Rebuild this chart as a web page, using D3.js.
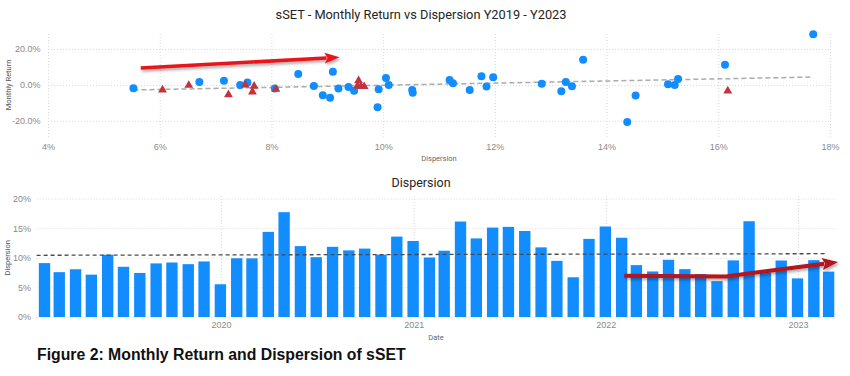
<!DOCTYPE html>
<html>
<head>
<meta charset="utf-8">
<script src="https://cdn.jsdelivr.net/npm/d3@7"></script>
<style>
  html, body { margin: 0; padding: 0; background: #fff; }
  svg { display: block; font-family: Roboto, "Open Sans", sans-serif; }
  .tick text { fill: #8a8a8a; font-size: 9px; }
  .grid line { stroke: #d9d9d9; stroke-dasharray: 1 2; }
  .grid .domain { display: none; }
</style>
</head>
<body>
<div id="chart"></div>
<script>
// month-end dates, Jan 2019 .. Feb 2023
const months = [
  "2019-01-31", "2019-02-28", "2019-03-31", "2019-04-30", "2019-05-31", "2019-06-30",
  "2019-07-31", "2019-08-31", "2019-09-30", "2019-10-31", "2019-11-30", "2019-12-31",
  "2020-01-31", "2020-02-29", "2020-03-31", "2020-04-30", "2020-05-31", "2020-06-30",
  "2020-07-31", "2020-08-31", "2020-09-30", "2020-10-31", "2020-11-30", "2020-12-31",
  "2021-01-31", "2021-02-28", "2021-03-31", "2021-04-30", "2021-05-31", "2021-06-30",
  "2021-07-31", "2021-08-31", "2021-09-30", "2021-10-31", "2021-11-30", "2021-12-31",
  "2022-01-31", "2022-02-28", "2022-03-31", "2022-04-30", "2022-05-31", "2022-06-30",
  "2022-07-31", "2022-08-31", "2022-09-30", "2022-10-31", "2022-11-30", "2022-12-31",
  "2023-01-31", "2023-02-28"
];

// dispersion, %
const dispersion = [
  9.10, 7.57, 8.06, 7.15, 10.52, 8.48, 7.44, 9.05, 9.20, 8.92, 9.38, 5.53,
  9.92, 9.90, 14.37, 17.70, 11.97, 10.10, 11.85, 11.25, 11.55, 10.53, 13.58, 12.84,
  10.05, 11.19, 16.12, 13.27, 15.10, 15.22, 14.52, 11.76, 9.48, 6.71, 13.19, 15.28,
  13.38, 8.76, 7.69, 9.66, 8.08, 7.23, 6.05, 9.56, 16.17, 7.53, 9.54, 6.52,
  9.60, 7.66
];

// monthly return, %
const monthlyReturn = [
  7.4, 1.3, -2.0, 2.4, -2.8, 6.1, 0.0, -7.2, -2.0, -5.7, -1.1, -1.8,
  -2.4, -12.4, -20.7, 28.3, 4.3, 0.0, -0.9, 0.9, -2.8, -4.3, 14.1, 0.7,
  3.9, 2.8, 11.3, 1.7, 0.4, 0.0, -5.9, 4.8, -3.2, 1.7, -3.5, 3.3,
  -0.7, -0.6, -0.7, -0.9, -2.4, -5.4, -2.8, 2.4, -3.3, 0.0, -0.6, -0.2,
  -0.8, -3.9
];

const recentFrom = "2022-03-31"; // last 12 months drawn as triangles

// trend lines (start, end)
const returnTrend = [-2.8, 4.4];
const dispersionTrend = [10.42, 10.69];

// hand-drawn annotation arrows, in data units
const topArrow = [[5.66, 9.4], [9.22, 15.4]];
const bottomArrow = [["2022-02-05", 6.95], ["2022-08-17", 6.85], ["2023-03-18", 9.3]];

const returnTicks = [-20, 0, 20];
const dispTicks = [4, 6, 8, 10, 12, 14, 16, 18];
const barTicks = [0, 5, 10, 15, 20];
const yearTicks = ["2020-01-01", "2021-01-01", "2022-01-01", "2023-01-01"];

const parse = d3.utcParse("%Y-%m-%d");
const rows = months.map((m, i) => ({
  date: parse(m),
  disp: dispersion[i],
  ret: monthlyReturn[i],
  recent: m >= recentFrom
}));

const width = 850;
const height = 376;
const blue = "#118DFF";

const svg = d3.select("#chart").append("svg")
  .attr("width", width)
  .attr("height", height);

svg.append("rect").attr("width", width).attr("height", height).attr("fill", "#fff");

const defs = svg.append("defs");
defs.append("filter").attr("id", "shadow")
  .attr("x", "-20%").attr("y", "-50%").attr("width", "140%").attr("height", "200%")
  .append("feDropShadow")
  .attr("dx", 1.5).attr("dy", 2).attr("stdDeviation", 1.5)
  .attr("flood-color", "#000").attr("flood-opacity", 0.35);

// ---------- top: scatter ----------
const xTop = d3.scaleLinear().domain([4, 18]).range([48, 830]);
const yTop = d3.scaleLinear().domain([-29, 29.5]).range([137, 32]);

svg.append("text")
  .attr("x", 421).attr("y", 18.5)
  .attr("text-anchor", "middle")
  .attr("font-size", 12.8)
  .attr("fill", "#252423")
  .text("sSET - Monthly Return vs Dispersion Y2019 - Y2023");

svg.append("g").attr("class", "grid")
  .attr("transform", `translate(0,${yTop.range()[0]})`)
  .call(d3.axisBottom(xTop).tickValues(dispTicks).tickSize(-(yTop.range()[0] - yTop.range()[1])).tickFormat(""));
svg.append("g").attr("class", "grid")
  .attr("transform", `translate(${xTop.range()[0]},0)`)
  .call(d3.axisLeft(yTop).tickValues(returnTicks).tickSize(-(xTop.range()[1] - xTop.range()[0])).tickFormat(""));

svg.append("g")
  .attr("transform", `translate(0,${yTop.range()[0]})`)
  .call(d3.axisBottom(xTop).tickValues(dispTicks).tickFormat((d) => d + "%").tickSize(0).tickPadding(7))
  .call((g) => g.select(".domain").remove());
svg.append("g")
  .attr("transform", `translate(${xTop.range()[0]},0)`)
  .call(d3.axisLeft(yTop).tickValues(returnTicks).tickFormat((d) => d.toFixed(1) + "%").tickSize(0).tickPadding(7.5))
  .call((g) => g.select(".domain").remove());

svg.append("text")
  .attr("x", 439).attr("y", 161)
  .attr("text-anchor", "middle").attr("font-size", 7.5).attr("fill", "#666")
  .text("Dispersion");
svg.append("text")
  .attr("transform", `translate(10.5,${yTop(0)}) rotate(-90)`)
  .attr("text-anchor", "middle").attr("font-size", 7.5).attr("fill", "#555")
  .text("Monthly Return");

const dExtent = d3.extent(rows, (d) => d.disp);
svg.append("line")
  .attr("x1", xTop(dExtent[0])).attr("y1", yTop(returnTrend[0]))
  .attr("x2", xTop(dExtent[1])).attr("y2", yTop(returnTrend[1]))
  .attr("stroke", "#ababab").attr("stroke-width", 1.5).attr("stroke-dasharray", "5 3");

svg.append("g")
  .selectAll("circle")
  .data(rows.filter((d) => !d.recent))
  .join("circle")
  .attr("cx", (d) => xTop(d.disp))
  .attr("cy", (d) => yTop(d.ret))
  .attr("r", 4)
  .attr("fill", blue);

svg.append("g")
  .selectAll("path")
  .data(rows.filter((d) => d.recent))
  .join("path")
  .attr("transform", (d) => `translate(${xTop(d.disp)},${yTop(d.ret)})`)
  .attr("d", d3.symbol(d3.symbolTriangle, 34))
  .attr("fill", "#C3323D");

drawArrow(topArrow.map(([d, r]) => [xTop(d), yTop(r)]), "#E8161B", 3.5, 15, 11);

// ---------- bottom: bars ----------
const first = rows[0].date;
const last = rows[rows.length - 1].date;
const xBot = d3.scaleUtc()
  .domain([d3.utcDay.offset(first, -15), d3.utcDay.offset(last, 15)])
  .range([36.6, 836.5]);
const yBot = d3.scaleLinear().domain([0, 20.6]).range([317, 195]);
const monthPx = (xBot.range()[1] - xBot.range()[0]) / rows.length;
const barW = monthPx * 0.71;

svg.append("text")
  .attr("x", 421).attr("y", 186.5)
  .attr("text-anchor", "middle")
  .attr("font-size", 12.5)
  .attr("fill", "#252423")
  .text("Dispersion");

svg.append("g").attr("class", "grid")
  .attr("transform", `translate(0,${yBot.range()[0]})`)
  .call(d3.axisBottom(xBot).tickValues(yearTicks.map(parse)).tickSize(-(yBot.range()[0] - yBot.range()[1])).tickFormat(""));
svg.append("g").attr("class", "grid")
  .attr("transform", `translate(${xBot.range()[0]},0)`)
  .call(d3.axisLeft(yBot).tickValues(barTicks).tickSize(-(xBot.range()[1] - xBot.range()[0])).tickFormat(""));

svg.append("g")
  .attr("transform", `translate(0,${yBot.range()[0]})`)
  .call(d3.axisBottom(xBot).tickValues(yearTicks.map(parse)).tickFormat(d3.utcFormat("%Y")).tickSize(0).tickPadding(5))
  .call((g) => g.select(".domain").remove());
svg.append("g")
  .attr("transform", `translate(${xBot.range()[0]},0)`)
  .call(d3.axisLeft(yBot).tickValues(barTicks).tickFormat((d) => d + "%").tickSize(0).tickPadding(5.6))
  .call((g) => g.select(".domain").remove());

svg.append("text")
  .attr("x", 436).attr("y", 340)
  .attr("text-anchor", "middle").attr("font-size", 7.5).attr("fill", "#666")
  .text("Date");
svg.append("text")
  .attr("transform", `translate(10,${yBot(10)}) rotate(-90)`)
  .attr("text-anchor", "middle").attr("font-size", 7.5).attr("fill", "#555")
  .text("Dispersion");

svg.append("g")
  .selectAll("rect")
  .data(rows)
  .join("rect")
  .attr("x", (d) => xBot(d.date) - barW / 2)
  .attr("y", (d) => yBot(d.disp))
  .attr("width", barW)
  .attr("height", (d) => yBot(0) - yBot(d.disp))
  .attr("fill", blue);

svg.append("line")
  .attr("x1", xBot.range()[0]).attr("y1", yBot(dispersionTrend[0]))
  .attr("x2", xBot(last) - 4).attr("y2", yBot(dispersionTrend[1]))
  .attr("stroke", "#4a4a4a").attr("stroke-width", 1.3).attr("stroke-dasharray", "4 3");

drawArrow(bottomArrow.map(([d, v]) => [xBot(parse(d)), yBot(v)]), "#B3121C", 4, 16, 12);

// ---------- caption ----------
svg.append("text")
  .attr("x", 37).attr("y", 360)
  .attr("font-family", "'Liberation Sans', Arial, sans-serif")
  .attr("font-weight", 700)
  .attr("font-size", 15.8)
  .attr("fill", "#111")
  .text("Figure 2: Monthly Return and Dispersion of sSET");

function drawArrow(pts, color, lineW, headLen, headW) {
  const g = svg.append("g").attr("filter", "url(#shadow)");
  const [ax, ay] = pts[pts.length - 2];
  const [bx, by] = pts[pts.length - 1];
  const ang = Math.atan2(by - ay, bx - ax);
  const ux = Math.cos(ang), uy = Math.sin(ang);
  const baseX = bx - ux * headLen, baseY = by - uy * headLen;
  const linePts = pts.slice(0, -1).concat([[baseX + ux * 2, baseY + uy * 2]]);
  g.append("path")
    .attr("d", d3.line()(linePts))
    .attr("fill", "none")
    .attr("stroke", color)
    .attr("stroke-width", lineW)
    .attr("stroke-linejoin", "round");
  g.append("path")
    .attr("d", d3.line()([
      [bx, by],
      [baseX - uy * headW / 2, baseY + ux * headW / 2],
      [baseX + ux * 3, baseY + uy * 3],
      [baseX + uy * headW / 2, baseY - ux * headW / 2]
    ]) + "Z")
    .attr("fill", color);
}
</script>
</body>
</html>
